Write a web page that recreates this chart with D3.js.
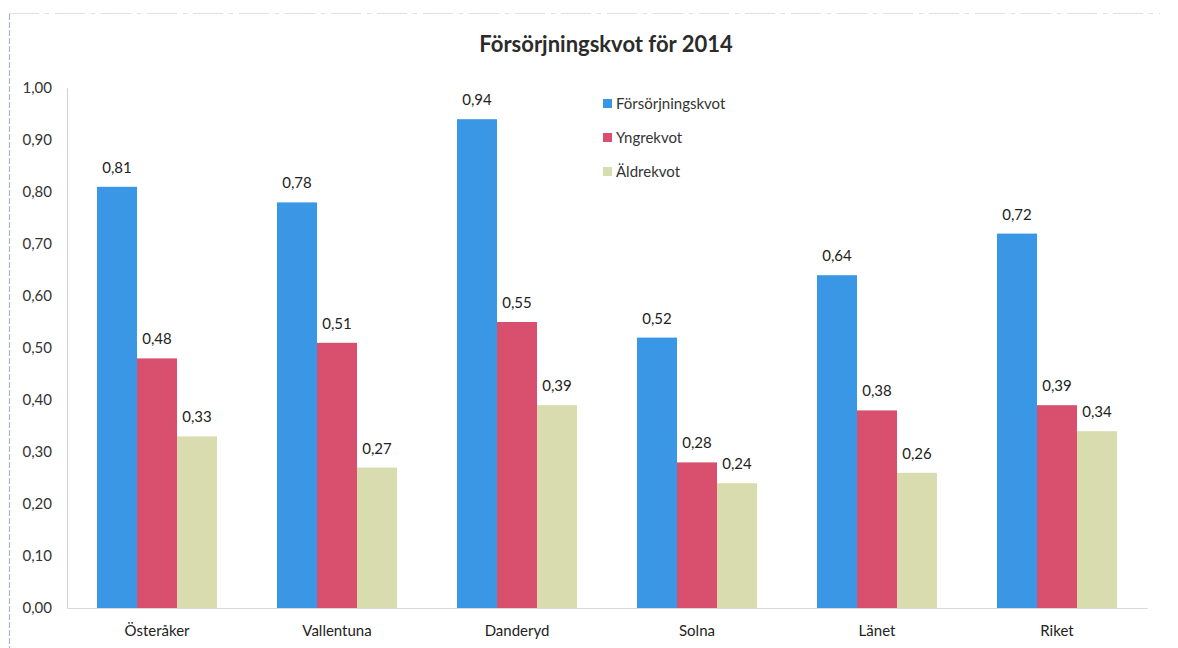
<!DOCTYPE html>
<html><head><meta charset="utf-8">
<script src="https://cdn.jsdelivr.net/npm/d3@7"></script>
<style>
body{margin:0;background:#fff;}
text{font-family:Lato, "Open Sans", sans-serif;}
</style></head>
<body>
<svg id="chart" width="1178" height="648"></svg>
<script>
const categories = ["Österåker","Vallentuna","Danderyd","Solna","Länet","Riket"];
const seriesNames = ["Försörjningskvot","Yngrekvot","Äldrekvot"];
const forsorjningskvot = [0.81,0.78,0.94,0.52,0.64,0.72];
const yngrekvot = [0.48,0.51,0.55,0.28,0.38,0.39];
const aldrekvot = [0.33,0.27,0.39,0.24,0.26,0.34];
const yTicks = [0,0.1,0.2,0.3,0.4,0.5,0.6,0.7,0.8,0.9,1.0];
const colors = ["#3a97e6","#d9506f","#d8dcae"];
const chartTitle = "Försörjningskvot för 2014";

(function(){
const series = [forsorjningskvot, yngrekvot, aldrekvot];
const svg = d3.select("#chart");
const fmt = v => d3.format(".2f")(v).replace(".", ",");

const pLeft = 67, pRight = 1147, pTop = 88, pBottom = 608;
const x = d3.scaleBand().domain(categories).range([pLeft, pRight]).paddingInner(1/3).paddingOuter(1/6);
const xs = d3.scaleBand().domain(seriesNames).range([0, x.bandwidth()]);
const y = d3.scaleLinear().domain([0, 1]).range([pBottom, pTop]);

// frame (scan border)
svg.append("line").attr("x1",9.5).attr("x2",9.5).attr("y1",14).attr("y2",648)
  .attr("stroke","#a9b1cf").attr("stroke-width",1.2).attr("stroke-dasharray","6,2");
svg.append("line").attr("x1",9).attr("x2",1160).attr("y1",13.5).attr("y2",13.5)
  .attr("stroke","#dde0e8").attr("stroke-width",1).attr("stroke-dasharray","30,6,4,6");

// title
svg.append("text").attr("x",606).attr("y",52).attr("text-anchor","middle")
  .attr("font-size",22).attr("font-weight","bold").attr("fill","#2b2b2b").text(chartTitle);

// y axis
const yAxis = d3.axisLeft(y).tickValues(yTicks).tickFormat(fmt).tickSize(0).tickPadding(15);
const ga = svg.append("g").attr("transform",`translate(${pLeft},0)`).call(yAxis);
ga.select(".domain").attr("stroke","#c9cedf");
ga.selectAll("text").attr("font-size",15).attr("fill","#333").attr("font-family","Lato, sans-serif");

// x baseline & labels
const xAxis = d3.axisBottom(x).tickSize(0).tickPadding(17);
const gx = svg.append("g").attr("transform",`translate(0,${pBottom})`).call(xAxis);
gx.select(".domain").attr("stroke","#d5d8e2");
gx.selectAll("text").attr("font-size",15).attr("fill","#222").attr("font-family","Lato, sans-serif");

// bars
const groups = svg.append("g").selectAll("g").data(categories).join("g")
  .attr("transform", d => `translate(${x(d)},0)`);
seriesNames.forEach((s, si) => {
  groups.append("rect")
    .attr("x", xs(s)).attr("width", xs.bandwidth())
    .attr("y", (d,i) => y(series[si][i]))
    .attr("height", (d,i) => y(0) - y(series[si][i]))
    .attr("fill", colors[si]);
  groups.append("text")
    .attr("x", xs(s) + xs.bandwidth()/2)
    .attr("y", (d,i) => y(series[si][i]) - 14)
    .attr("text-anchor","middle").attr("font-size",15).attr("fill","#222")
    .text((d,i) => fmt(series[si][i]));
});

// legend
const lg = svg.append("g").attr("transform","translate(603,103)");
seriesNames.forEach((s, i) => {
  const row = lg.append("g").attr("transform",`translate(0,${i*34})`);
  row.append("rect").attr("x",0).attr("y",-4).attr("width",9).attr("height",9).attr("fill",colors[i]);
  row.append("text").attr("x",13).attr("y",6).attr("font-size",15).attr("fill","#333").text(s);
});
})();
</script>
</body></html>
